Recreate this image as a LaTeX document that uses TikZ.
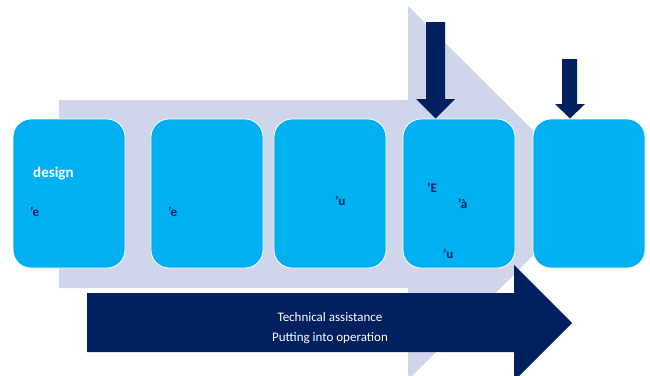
\documentclass[tikz,border=0pt]{standalone}
\usepackage{fontspec}
\setmainfont{Carlito}
\definecolor{lightarrow}{HTML}{CFD5EA}
\definecolor{boxcyan}{HTML}{00B0F0}
\definecolor{navy}{HTML}{002060}
\begin{document}
\begin{tikzpicture}[x=1pt,y=-1pt,
  stagebox/.style={draw=white,line width=0.8pt,fill=boxcyan,rounded corners=18pt,minimum width=112pt,minimum height=149pt,inner sep=0pt},
  boxlabel/.style={inner sep=0pt,anchor=west,text=navy,font=\fontsize{13}{15}\selectfont\bfseries},
  whitelabel/.style={inner sep=0pt,text=white,font=\fontsize{13}{15}\selectfont}]
\useasboundingbox (0,0) rectangle (650,375);
% big light process arrow
\fill[lightarrow] (59,100) -- (408,100) -- (408,6) -- (596,193) -- (408,380) -- (408,288) -- (59,288) -- cycle;
% stage boxes
\node[stagebox] (b1) at (69,193.5) {};
\node[stagebox] (b2) at (207,193.5) {};
\node[stagebox] (b3) at (330,193.5) {};
\node[stagebox] (b4) at (459,193.5) {};
\node[stagebox] (b5) at (589,193.5) {};
% labels
\node[boxlabel,text=white,font=\fontsize{15}{17}\selectfont\bfseries] (t1) at (33,174) {design};
\node[boxlabel] (t2) at (30,212) {’e};
\node[boxlabel] (t3) at (168,212) {’e};
\node[boxlabel] (t4) at (335,201) {’u};
\node[boxlabel] (t5) at (427,188) {’E};
\node[boxlabel] (t6) at (458,204) {’à};
\node[boxlabel] (t7) at (443,254) {’u};
% down arrows
\coordinate (tip4) at (435.5,118.5);
\coordinate (tip5) at (570,118.5);
\fill[navy] (426,22) -- (445,22) -- (445,99) -- (455,99) -- (tip4) -- (416,99) -- (426,99) -- cycle;
\fill[navy] (562,59) -- (577,59) -- (577,104) -- (585,104) -- (tip5) -- (555,104) -- (562,104) -- cycle;
% bottom dark arrow
\fill[navy] (87,293) -- (514,293) -- (514,265) -- (572,323) -- (514,381) -- (514,352) -- (87,352) -- cycle;
\node[whitelabel] (a1) at (330,317) {Technical assistance};
\node[whitelabel] (a2) at (330,338) {Putting into operation};
\end{tikzpicture}
\end{document}
